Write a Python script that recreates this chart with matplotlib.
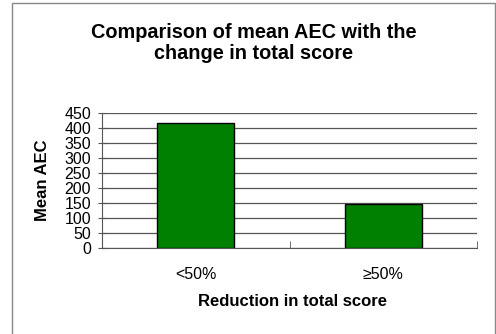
import matplotlib.pyplot as plt
from matplotlib.patches import Rectangle

# data
categories = ['<50%', '≥50%']
mean_aec = [415, 145]
y_ticks = list(range(0, 451, 50))

plt.rcParams['font.family'] = ['Liberation Sans', 'DejaVu Sans']

fig = plt.figure(figsize=(4.96, 3.34), dpi=100)
W, H = 496, 334

# outer chart border (left, top, right only visible)
fig.add_artist(Rectangle((12 / W, -0.01), (495 - 12) / W, (334 - 3) / H + 0.01,
                         transform=fig.transFigure, fill=False,
                         edgecolor='#888888', linewidth=1.0))

ax = fig.add_axes([102 / W, 1 - 248 / H, (477 - 102) / W, (248 - 112.7) / H])

x = [0, 1]
ax.bar(x, mean_aec, width=0.41, color='#008000', edgecolor='black', linewidth=1.0, zorder=3)

ax.set_xlim(-0.5, 1.5)
ax.set_ylim(0, 450)
ax.set_yticks(y_ticks)
ax.set_yticklabels([str(v) for v in y_ticks], fontsize=11.5)
ax.yaxis.grid(True, color='#555555', linewidth=0.9, zorder=0)

ax.set_xticks(x)
ax.set_xticklabels(categories, fontsize=11.5)
ax.tick_params(axis='x', length=0, pad=14)
ax.set_xticks([-0.5, 0.5, 1.5], minor=True)
ax.tick_params(axis='x', which='minor', length=5, direction='in', color='#555555')
ax.tick_params(axis='y', length=6, direction='inout', color='#555555', pad=5)

for side in ['top', 'right']:
    ax.spines[side].set_visible(False)
ax.spines['left'].set_color('#555555')
ax.spines['bottom'].set_color('#555555')

ax.set_ylabel('Mean AEC', fontsize=12, fontweight='bold')
ax.yaxis.set_label_coords((43 - 102) / 375, 0.5)
ax.set_xlabel('Reduction in total score', fontsize=12, fontweight='bold')
ax.xaxis.set_label_coords((293 - 102) / 375, (248 - 302) / 135.3)
ax.xaxis.label.set_va('center')
ax.yaxis.label.set_va('center')

fig.text(0.5 * (12 + 495) / W, 1 - 43 / H, 'Comparison of mean AEC with the\nchange in total score',
         ha='center', va='center', fontsize=14.3, fontweight='bold', linespacing=1.08)

fig.savefig('out.png', dpi=100)
